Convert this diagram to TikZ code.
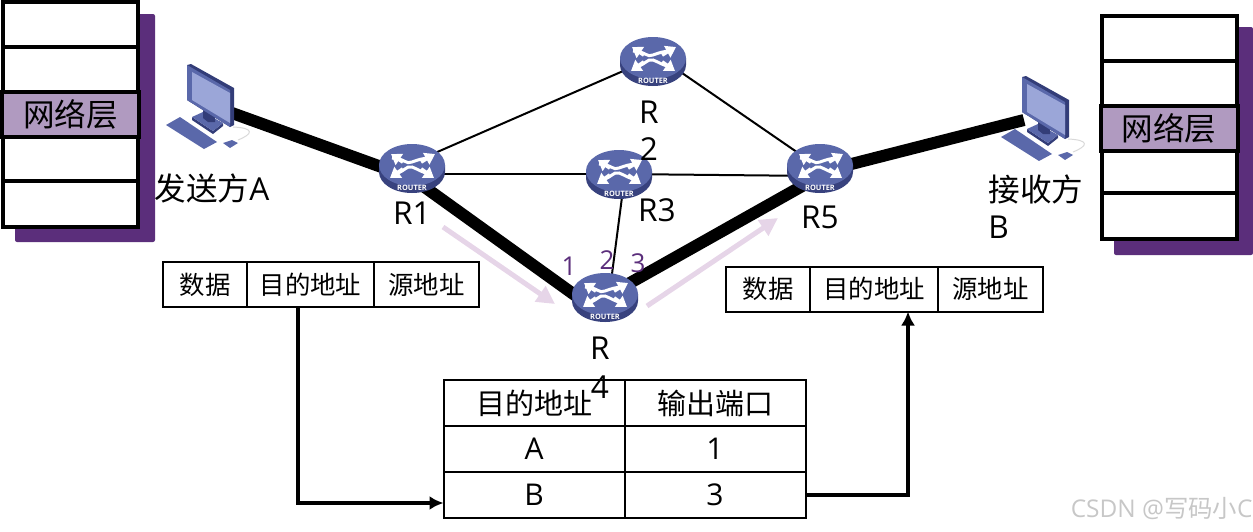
\documentclass[tikz,border=0pt]{standalone}
\usepackage{fontspec}
\setmainfont{Open Sans}
\newfontfamily\cjk{Noto Sans CJK SC}
\usetikzlibrary{arrows.meta,positioning,calc}

\definecolor{shadepurple}{HTML}{5B2E7B}
\definecolor{layerpurple}{HTML}{B09AC0}
\definecolor{flowpink}{HTML}{E6D5E8}
\definecolor{routertop}{HTML}{5A68AA}
\definecolor{routerside}{HTML}{38427E}
\definecolor{pcdark}{HTML}{333D78}
\definecolor{pcmid}{HTML}{5A68AA}
\definecolor{pcscreen}{HTML}{9BA6D8}

\tikzset{
  routersw/.style={white, line width=1.9pt, -{Triangle[length=5pt,width=6.4pt]}},
  router/.pic={
    \fill[routerside] (-33,-3) -- (-33,4) arc[start angle=180, end angle=0, x radius=33, y radius=21] -- (33,-3) -- cycle;
    \fill[routertop] (0,-3) ellipse[x radius=33, y radius=21];
    \draw[routersw] (-9,-6) .. controls (-12,-8) .. (-21,-14);
    \draw[routersw] (9,-6) .. controls (12,-8) .. (23,-14);
    \draw[routersw] (-9,1) .. controls (-12,3) .. (-22,10);
    \draw[routersw] (9,1) .. controls (12,3) .. (22,10);
    \draw[white, line width=1.5pt] (-20,-10) .. controls (-8,-10) and (-6,-3) .. (0,-6) .. controls (6,-8) and (10,-10) .. (19,-10);
    \draw[white, line width=1.5pt] (-19,6) .. controls (-8,5) and (-6,-3) .. (0,-1) .. controls (6,1) and (10,5) .. (19,6);
    \node[text=white, font=\bfseries\fontsize{3.7}{4}\selectfont, inner sep=0] at (0,20) {ROUTER};
  },
  computer/.pic={
    \draw[white!70!gray, line width=0.5pt] (28,17) .. controls (50,18) and (48,24) .. (33,30);
    \fill[pcmid] (-39,15) -- (-25,7) -- (12,32) -- (-1,39) -- cycle;
    \fill[pcmid] (18,33) -- (27,30) -- (33,33) -- (25,38) -- cycle;
    \fill[pcdark] (-13,7) -- (-13,10) -- (8,24) -- (18,16) -- (18,13) -- (8,21) -- cycle;
    \fill[pcmid] (-13,7) -- (-2,2) -- (18,13) -- (8,21) -- cycle;
    \fill[pcdark] (-2,0) -- (10,6) -- (10,12) -- (3,12) -- (-2,8) -- cycle;
    \fill[pcdark] (-18,-45) -- (-14,-46) -- (29,-22) -- (29,15) -- (25,17) -- (-18,-10) -- cycle;
    \fill[pcmid] (-18,-45) -- (25,-20) -- (25,17) -- (-18,-10) -- cycle;
    \fill[pcscreen] (-13,-38) -- (25,-17) -- (25,13) -- (-13,-10) -- cycle;
  },
  layer/.style={draw, line width=2pt, fill=white, outer sep=0pt, inner sep=0pt, minimum width=67.5pt, minimum height=22.5pt},
  netlayer/.style={layer, fill=layerpurple, minimum width=68.5pt, font=\cjk\fontsize{15.8}{18}\selectfont},
  stackshade/.style={fill=shadepurple, rounded corners=1pt},
  cell/.style={draw, line width=1pt, outer sep=0pt, inner sep=0pt, minimum height=22.5pt, font=\cjk\fontsize{12.7}{15}\selectfont},
  tblcell/.style={draw, line width=1pt, outer sep=0pt, inner sep=0pt, minimum height=23pt, minimum width=90.5pt, font=\fontsize{15}{18}\selectfont},
  tblhead/.style={tblcell, font=\cjk\fontsize{14.5}{18}\selectfont},
  lbl/.style={inner sep=0pt, align=left, font=\fontsize{15.8}{18.5}\selectfont},
  port/.style={inner sep=0pt, text=shadepurple, font=\fontsize{13}{14}\selectfont},
  thinlink/.style={line width=1pt},
  thicklink/.style={line width=6pt},
  flow/.style={-{Triangle[length=9pt,width=9pt]}, flowpink, line width=2.5pt},
  route/.style={-{Latex[length=7pt,width=7pt]}, line width=2pt}
}

\begin{document}
\begin{tikzpicture}[x=0.5pt, y=-0.5pt]
\useasboundingbox (0,0) rectangle (1253,531);

% end systems
\fill[stackshade] (15,14) rectangle (155,242);
\node[layer] (a1) at (70.5,24) {};
\node[layer, below=0pt of a1] (a2) {};
\node[netlayer, below=0pt of a2] (a3) {网络层};
\node[layer, below=0pt of a3, minimum height=22pt] (a4) {};
\node[layer, below=0pt of a4, minimum height=23pt] (a5) {};

\fill[stackshade] (1114,27) rectangle (1253,255);
\node[layer] (b1) at (1169,38.5) {};
\node[layer, below=0pt of b1] (b2) {};
\node[netlayer, below=0pt of b2] (b3) {网络层};
\node[layer, below=0pt of b3, minimum height=21pt] (b4) {};
\node[layer, below=0pt of b4, minimum height=23pt] (b5) {};

% routers
\coordinate (pcA) at (205,110);
\coordinate (pcB) at (1040,122);
\coordinate (r1) at (412,168);
\coordinate (r2) at (653,61);
\coordinate (r3) at (619,174);
\coordinate (r4) at (605,297);
\coordinate (r5) at (820,168);

\draw[thinlink] ([yshift=2.5pt]r1) -- ([yshift=1.5pt]r2);
\draw[thinlink] ([yshift=4pt]r2) -- (r5);
\draw[thinlink] ([yshift=-3pt]r1) -- (r3);
\draw[thinlink] (r3) -- ([yshift=-4pt]r5);
\draw[thinlink] ([xshift=3pt]r3) -- ([xshift=2pt]r4);
\draw[thicklink] ([shift={(13.5pt,-1.5pt)}]pcA) -- ([yshift=-5pt]r1);
\draw[thicklink] ([yshift=-5pt]r1) -- ([shift={(-7.5pt,-4.5pt)}]r4);
\draw[thicklink] (r4) -- ([yshift=-4pt]r5);
\draw[thicklink] ([yshift=-2pt]r5) -- ([shift={(-8pt,1pt)}]pcB);

\pic at (pcA) {computer};
\pic at (pcB) {computer};
\foreach \r in {r1,r2,r3,r4,r5} \pic at (\r) {router};

\coordinate (flow1a) at (443,227);
\coordinate (flow1b) at (555,304);
\coordinate (flow2a) at (647,306);
\coordinate (flow2b) at (778,218);
\draw[flow] (flow1a) -- (flow1b);
\draw[flow] (flow2a) -- (flow2b);

\node[lbl] (sendlbl) at (212,188) {{\cjk 发送方}A};
\node[lbl, anchor=west] (recvlbl) at (988,207) {{\cjk 接收方}\\B};
\node[lbl] (r1lbl) at (412,213) {R1};
\node[lbl, align=center] (r2lbl) at (649,131) {R\\2};
\node[lbl] (r3lbl) at (657,210) {R3};
\node[lbl] (r5lbl) at (820,217) {R5};
\node[port] (p1) at (569,266) {1};
\node[port] (p2) at (607,260) {2};
\node[port] (p3) at (638,263) {3};

% packets
\node[cell, minimum width=42pt] (pa1) at (205,284.5) {数据};
\node[cell, minimum width=63.5pt, right=0pt of pa1] (pa2) {目的地址};
\node[cell, minimum width=52.5pt, right=0pt of pa2] (pa3) {源地址};

\node[cell, minimum width=42pt] (pb1) at (768,289) {数据};
\node[cell, minimum width=64pt, right=0pt of pb1] (pb2) {目的地址};
\node[cell, minimum width=52.5pt, right=0pt of pb2] (pb3) {源地址};

% forwarding table
\node[tblhead] (t11) at (534,403) {目的地址};
\node[tblhead, right=0pt of t11] (t12) {输出端口};
\node[tblcell, below=0pt of t11] (t21) {A};
\node[tblcell, right=0pt of t21] (t22) {1};
\node[tblcell, below=0pt of t21] (t31) {B};
\node[tblcell, right=0pt of t31] (t32) {3};

\node[lbl, align=center] (r4lbl) at (600,368) {R\\[1pt]4};

\draw[route] ([xshift=-6.5pt]pa2.south) |- ([yshift=-4pt]t31.west);
\draw[route] (t32.east) -| ([xshift=17pt]pb2.south);

\node[text=black!22, inner sep=0pt, anchor=east, font=\fontsize{12.2}{14}\selectfont] (mark) at (1253,509) {CSDN @{\cjk 写码小}C};
\end{tikzpicture}
\end{document}
